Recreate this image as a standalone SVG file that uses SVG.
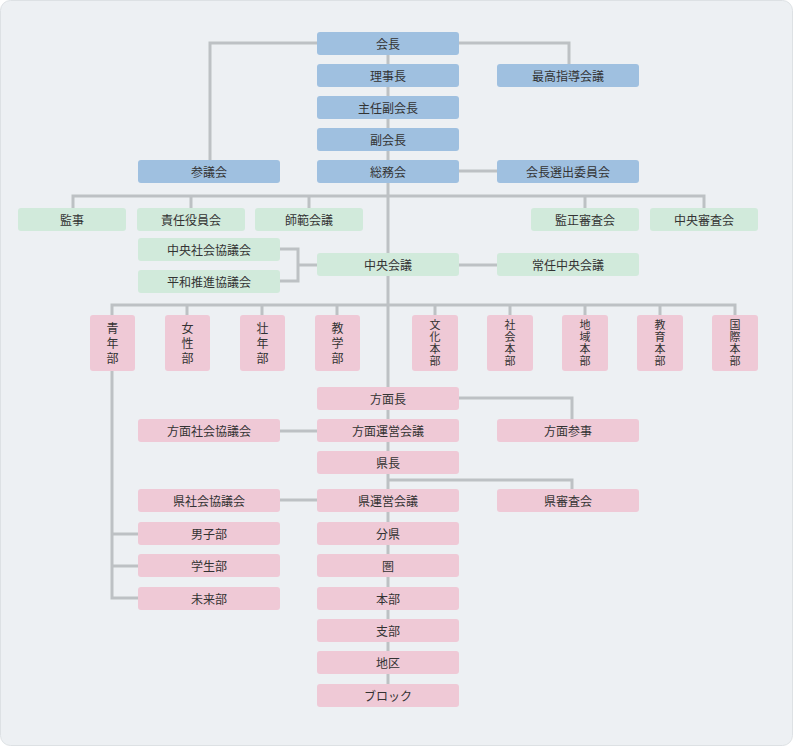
<svg xmlns="http://www.w3.org/2000/svg" width="793" height="746" viewBox="0 0 793 746">
<style>
.b{fill:#9fc0e0}.g{fill:#d1eadb}.p{fill:#efc9d6}
text{font-family:"Noto Sans CJK JP",sans-serif;font-size:12px;fill:#333;text-anchor:middle;dominant-baseline:central}
text.v{writing-mode:vertical-rl;letter-spacing:3px}
text.s{writing-mode:vertical-rl;font-size:11px;letter-spacing:1px}
.c path{fill:none;stroke:#bdc1c4;stroke-width:3}
</style>
<rect x="0.5" y="0.5" width="792" height="745" rx="10" fill="#edf0f3" stroke="#dde1e4"/>
<g class="c">
<path d="M388 43V700M317 43H210V160M459 43H569V64M459 171H497M73 208V196H704V208M191 196V208M309 196V208M585 196V208"/>
<path d="M280 249H298V281H280M298 265H317M459 265H497"/>
<path d="M112 315V305H735V315M187 305V315M262 305V315M337 305V315M435 305V315M510 305V315M585 305V315M660 305V315"/>
<path d="M459 398H572V419M280 431H317M388 480H572V489M280 500H317M112 371V598H138M112 534H138M112 566H138"/>
</g>
<g id="n1"><rect class="b" x="317" y="32" width="142" height="23" rx="3"/><text x="388" y="43.5">会長</text></g>
<g id="n2"><rect class="b" x="317" y="64" width="142" height="23" rx="3"/><text x="388" y="75.5">理事長</text></g>
<g id="n3"><rect class="b" x="317" y="96" width="142" height="23" rx="3"/><text x="388" y="107.5">主任副会長</text></g>
<g id="n4"><rect class="b" x="317" y="128" width="142" height="23" rx="3"/><text x="388" y="139.5">副会長</text></g>
<g id="n5"><rect class="b" x="317" y="160" width="142" height="23" rx="3"/><text x="388" y="171.5">総務会</text></g>
<g id="n6"><rect class="b" x="138" y="160" width="142" height="23" rx="3"/><text x="209" y="171.5">参議会</text></g>
<g id="n7"><rect class="b" x="497" y="64" width="142" height="23" rx="3"/><text x="568" y="75.5">最高指導会議</text></g>
<g id="n8"><rect class="b" x="497" y="160" width="142" height="23" rx="3"/><text x="568" y="171.5">会長選出委員会</text></g>
<g id="g1"><rect class="g" x="18" y="208" width="108" height="23" rx="3"/><text x="72" y="219.5">監事</text></g>
<g id="g2"><rect class="g" x="137" y="208" width="108" height="23" rx="3"/><text x="191" y="219.5">責任役員会</text></g>
<g id="g3"><rect class="g" x="255" y="208" width="108" height="23" rx="3"/><text x="309" y="219.5">師範会議</text></g>
<g id="g4"><rect class="g" x="531" y="208" width="108" height="23" rx="3"/><text x="585" y="219.5">監正審査会</text></g>
<g id="g5"><rect class="g" x="650" y="208" width="108" height="23" rx="3"/><text x="704" y="219.5">中央審査会</text></g>
<g id="g6"><rect class="g" x="138" y="238" width="142" height="23" rx="3"/><text x="209" y="249.5">中央社会協議会</text></g>
<g id="g7"><rect class="g" x="138" y="270" width="142" height="23" rx="3"/><text x="209" y="281.5">平和推進協議会</text></g>
<g id="g8"><rect class="g" x="317" y="253" width="142" height="23" rx="3"/><text x="388" y="264.5">中央会議</text></g>
<g id="g9"><rect class="g" x="497" y="253" width="142" height="23" rx="3"/><text x="568" y="264.5">常任中央会議</text></g>
<g id="v1"><rect class="p" x="90" y="315" width="45" height="56" rx="3"/><text class="v" x="112.5" y="344.5">青年部</text></g>
<g id="v2"><rect class="p" x="165" y="315" width="45" height="56" rx="3"/><text class="v" x="187.5" y="344.5">女性部</text></g>
<g id="v3"><rect class="p" x="240" y="315" width="45" height="56" rx="3"/><text class="v" x="262.5" y="344.5">壮年部</text></g>
<g id="v4"><rect class="p" x="315" y="315" width="45" height="56" rx="3"/><text class="v" x="337.5" y="344.5">教学部</text></g>
<g id="v5"><rect class="p" x="412" y="315" width="46" height="56" rx="3"/><text class="s" x="435" y="343.5">文化本部</text></g>
<g id="v6"><rect class="p" x="487" y="315" width="46" height="56" rx="3"/><text class="s" x="510" y="343.5">社会本部</text></g>
<g id="v7"><rect class="p" x="562" y="315" width="46" height="56" rx="3"/><text class="s" x="585" y="343.5">地域本部</text></g>
<g id="v8"><rect class="p" x="637" y="315" width="46" height="56" rx="3"/><text class="s" x="660" y="343.5">教育本部</text></g>
<g id="v9"><rect class="p" x="712" y="315" width="46" height="56" rx="3"/><text class="s" x="735" y="343.5">国際本部</text></g>
<g id="p1"><rect class="p" x="317" y="387" width="142" height="23" rx="3"/><text x="388" y="398.5">方面長</text></g>
<g id="p2"><rect class="p" x="317" y="419" width="142" height="23" rx="3"/><text x="388" y="430.5">方面運営会議</text></g>
<g id="p3"><rect class="p" x="317" y="451" width="142" height="23" rx="3"/><text x="388" y="462.5">県長</text></g>
<g id="p4"><rect class="p" x="317" y="489" width="142" height="23" rx="3"/><text x="388" y="500.5">県運営会議</text></g>
<g id="p5"><rect class="p" x="317" y="522" width="142" height="23" rx="3"/><text x="388" y="533.5">分県</text></g>
<g id="p6"><rect class="p" x="317" y="554" width="142" height="23" rx="3"/><text x="388" y="565.5">圏</text></g>
<g id="p7"><rect class="p" x="317" y="587" width="142" height="23" rx="3"/><text x="388" y="598.5">本部</text></g>
<g id="p8"><rect class="p" x="317" y="619" width="142" height="23" rx="3"/><text x="388" y="630.5">支部</text></g>
<g id="p9"><rect class="p" x="317" y="651" width="142" height="23" rx="3"/><text x="388" y="662.5">地区</text></g>
<g id="p10"><rect class="p" x="317" y="684" width="142" height="23" rx="3"/><text x="388" y="695.5">ブロック</text></g>
<g id="p11"><rect class="p" x="138" y="419" width="142" height="23" rx="3"/><text x="209" y="430.5">方面社会協議会</text></g>
<g id="p12"><rect class="p" x="497" y="419" width="142" height="23" rx="3"/><text x="568" y="430.5">方面参事</text></g>
<g id="p13"><rect class="p" x="497" y="489" width="142" height="23" rx="3"/><text x="568" y="500.5">県審査会</text></g>
<g id="p14"><rect class="p" x="138" y="489" width="142" height="23" rx="3"/><text x="209" y="500.5">県社会協議会</text></g>
<g id="p15"><rect class="p" x="138" y="522" width="142" height="23" rx="3"/><text x="209" y="533.5">男子部</text></g>
<g id="p16"><rect class="p" x="138" y="554" width="142" height="23" rx="3"/><text x="209" y="565.5">学生部</text></g>
<g id="p17"><rect class="p" x="138" y="587" width="142" height="23" rx="3"/><text x="209" y="598.5">未来部</text></g>
</svg>
